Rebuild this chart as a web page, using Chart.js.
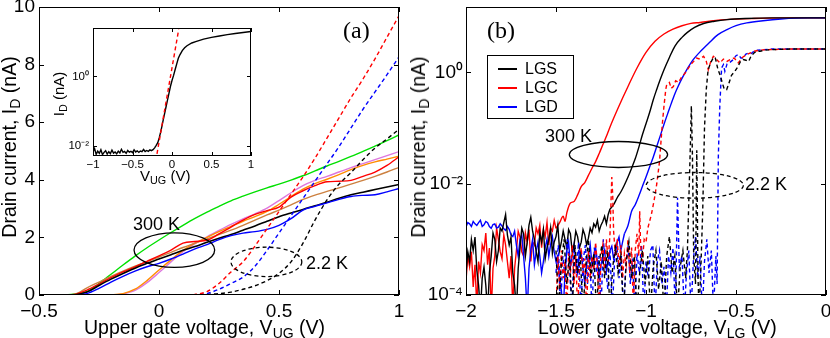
<!DOCTYPE html>
<html>
<head>
<meta charset="utf-8">
<script src="https://cdn.jsdelivr.net/npm/chart.js@4.4.1/dist/chart.umd.min.js"></script>
<style>
html, body { margin: 0; padding: 0; background: #fff; }
#fig { position: relative; width: 830px; height: 338px; overflow: hidden; font-family: "Liberation Sans", Arial, sans-serif; color: #000; }
#fig canvas { position: absolute; }
.t { position: absolute; white-space: nowrap; font-size: 18px; line-height: 18px; }
.t sub { font-size: 0.72em; vertical-align: -0.3em; line-height: 0; }
.title { font-size: 19.5px; line-height: 20px; }
.rot { transform: translate(-50%, -50%) rotate(-90deg); }
.small { font-size: 15px; line-height: 15px; }
.serif { font-family: "Liberation Serif", "Times New Roman", serif; font-size: 24px; line-height: 24px; }
#legend { position: absolute; left: 487px; top: 55px; width: 85px; height: 62px; border: 1px solid #000; background: #fff; font-size: 16px; line-height: 16px; }
#legend .ln { position: absolute; left: 10px; width: 19px; height: 2px; }
#legend .lb { position: absolute; left: 37px; }
</style>
</head>
<body>
<div id="fig">
  <canvas id="chartA" width="415" height="338" style="left:0;top:0"></canvas>
  <canvas id="chartB" width="415" height="338" style="left:415px;top:0"></canvas>
  <canvas id="inset" width="215" height="180" style="left:50px;top:15px"></canvas>

  <div class="t title rot" style="left:9px;top:147px">Drain current, I<sub>D</sub> (nA)</div>
  <div class="t title" style="left:84px;top:317px">Upper gate voltage, V<sub>UG</sub> (V)</div>
  <div class="t title rot" style="left:418px;top:147px">Drain current, I<sub>D</sub> (nA)</div>
  <div class="t title" style="left:538px;top:317px">Lower gate voltage, V<sub>LG</sub> (V)</div>
  <div class="t small rot" style="left:58px;top:94px">I<sub>D</sub> (nA)</div>
  <div class="t small" style="left:140px;top:168px">V<sub>UG</sub> (V)</div>

  <div class="t serif" style="left:343px;top:18px">(a)</div>
  <div class="t serif" style="left:487px;top:18px">(b)</div>
  <div class="t" style="left:133px;top:215px">300 K</div>
  <div class="t" style="left:306px;top:254px">2.2 K</div>
  <div class="t" style="left:545px;top:127px">300 K</div>
  <div class="t" style="left:745px;top:175px">2.2 K</div>

  <div id="legend">
    <div class="ln" style="top:12px;background:#000"></div><div class="lb" style="top:5px">LGS</div>
    <div class="ln" style="top:31px;background:#f00"></div><div class="lb" style="top:24px">LGC</div>
    <div class="ln" style="top:50px;background:#00f"></div><div class="lb" style="top:43px">LGD</div>
  </div>
</div>

<script>
// ---- panel (a): upper gate sweep, linear scale ----
const vUG = [-0.5, -0.4, -0.35, -0.3, -0.25, -0.2, -0.15, -0.1, -0.05, 0, 0.05, 0.1, 0.15, 0.2, 0.25,
             0.3, 0.35, 0.4, 0.45, 0.5, 0.55, 0.6, 0.65, 0.7, 0.75, 0.8, 0.85, 0.9, 0.95, 1.0];
const green300 = [0, 0, 0.04, 0.12, 0.4, 0.72, 1.04, 1.35, 1.64, 1.91, 2.17, 2.42, 2.66, 2.88, 3.08,
                  3.27, 3.43, 3.58, 3.72, 3.85, 3.99, 4.14, 4.31, 4.48, 4.64, 4.81, 4.99, 5.17, 5.36, 5.56];
const red300 = [0, 0, 0.02, 0.17, 0.38, 0.6, 0.8, 0.98, 1.17, 1.36, 1.56, 1.8, 1.86, 1.9, 2.12,
                2.36, 2.6, 2.8, 2.93, 3.05, 3.4, 3.62, 3.8, 3.93, 3.95, 3.98, 4.12, 4.27, 4.5, 4.8];
const black300 = [0, 0, 0.01, 0.1, 0.33, 0.55, 0.75, 0.93, 1.1, 1.25, 1.4, 1.55, 1.68, 1.83, 1.97,
                  2.1, 2.25, 2.4, 2.56, 2.72, 2.85, 2.97, 3.1, 3.22, 3.36, 3.48, 3.57, 3.66, 3.75, 3.84];
const blue300 = [0, 0, 0, 0.05, 0.23, 0.45, 0.65, 0.83, 0.98, 1.1, 1.25, 1.42, 1.6, 1.75, 1.92,
                 2.06, 2.15, 2.2, 2.28, 2.42, 2.65, 2.95, 3.08, 3.2, 3.32, 3.42, 3.46, 3.48, 3.58, 3.7];
const tan300 = [0, 0, 0.03, 0.25, 0.45, 0.65, 0.83, 1.0, 1.16, 1.32, 1.48, 1.65, 1.8, 1.95, 2.1,
                2.25, 2.42, 2.6, 2.78, 2.95, 3.13, 3.32, 3.47, 3.6, 3.72, 3.85, 3.98, 4.12, 4.27, 4.43];
const orange300 = [0, 0, 0, 0, 0, 0.01, 0.05, 0.2, 0.5, 0.87, 1.22, 1.55, 1.8, 2.0, 2.2,
                   2.38, 2.56, 2.72, 2.9, 3.15, 3.42, 3.68, 3.87, 4.02, 4.18, 4.35, 4.5, 4.62, 4.72, 4.82];
const pink300 = [0, 0, 0, 0, 0, 0, 0.04, 0.16, 0.43, 0.78, 1.15, 1.5, 1.78, 2.02, 2.24,
                 2.45, 2.64, 2.82, 3.02, 3.28, 3.55, 3.8, 3.98, 4.12, 4.27, 4.42, 4.56, 4.7, 4.84, 4.98];
const red2K = [0, 0, 0, 0, 0, 0, 0, 0, 0, 0, 0, 0, 0.02, 0.12, 0.4,
               0.8, 1.15, 1.7, 2.3, 2.9, 3.5, 4.1, 4.75, 5.45, 6.15, 6.85, 7.5, 8.2, 8.95, 9.7];
const blue2K = [0, 0, 0, 0, 0, 0, 0, 0, 0, 0, 0, 0, 0, 0.05, 0.2,
                0.4, 0.62, 1.0, 1.55, 2.15, 2.75, 3.35, 3.95, 4.55, 5.15, 5.8, 6.45, 7.05, 7.65, 8.27];
const black2K = [0, 0, 0, 0, 0, 0, 0, 0, 0, 0, 0, 0, 0, 0.02, 0.05,
                 0.1, 0.2, 0.32, 0.5, 0.75, 1.15, 1.8, 2.6, 3.3, 3.85, 4.25, 4.7, 5.1, 5.42, 5.75];
const xTicksA = [-0.5, 0, 0.5, 1];
const yTicksA = [0, 2, 4, 6, 8, 10];

// ---- inset: log scale of one 300 K curve and its exponential fit ----
const insetCurve = [[-1.00,6.8e-3],[-0.98,8.5e-3],[-0.96,5.8e-3],[-0.94,7.2e-3],[-0.92,6.2e-3],[-0.90,7.9e-3],
  [-0.88,5.7e-3],[-0.86,6.6e-3],[-0.84,7.4e-3],[-0.82,5.9e-3],[-0.80,6.9e-3],[-0.78,6.1e-3],[-0.76,7.7e-3],
  [-0.74,6.3e-3],[-0.72,6.8e-3],[-0.70,6.0e-3],[-0.68,7.2e-3],[-0.66,6.4e-3],[-0.64,8.1e-3],[-0.62,6.6e-3],
  [-0.60,7.0e-3],[-0.58,6.2e-3],[-0.56,7.5e-3],[-0.54,6.7e-3],[-0.52,7.1e-3],[-0.50,6.5e-3],[-0.48,7.8e-3],
  [-0.46,6.8e-3],[-0.44,7.3e-3],[-0.42,6.6e-3],[-0.40,7.2e-3],[-0.38,6.9e-3],[-0.36,8.0e-3],[-0.34,7.0e-3],
  [-0.32,7.5e-3],[-0.30,7.1e-3],[-0.28,7.8e-3],[-0.26,7.4e-3],[-0.24,7.9e-3],[-0.22,8.9e-3],[-0.20,1.05e-2],
  [-0.18,1.26e-2],[-0.16,1.78e-2],[-0.14,2.75e-2],[-0.12,4.47e-2],[-0.10,7.4e-2],[-0.08,0.12],[-0.06,0.195],
  [-0.04,0.316],[-0.02,0.513],[0.00,0.76],[0.02,1.07],[0.04,1.58],[0.06,2.29],[0.08,3.31],[0.10,4.17],
  [0.13,5.5],[0.16,6.6],[0.19,7.6],[0.25,9.1],[0.30,10.0],[0.40,11.7],[0.50,13.2],[0.60,14.5],[0.70,15.8],
  [0.80,17.0],[0.90,18.2],[1.00,19.5]];
const insetFit = [[-0.19, 6.0e-3], [0.085, 22.4]];
const xTicksIn = [-1, -0.5, 0, 0.5, 1];
const yTicksIn = [1e-2, 1];

// ---- panel (b): lower gate sweep, log scale ----
const lgs300 = [[-2.00,2.5e-4],[-1.99,6e-4],[-1.98,4e-4],[-1.97,1e-3],[-1.96,6.3e-4],[-1.95,1.1e-3],[-1.94,2.8e-4],
  [-1.93,1.5e-4],[-1.92,5e-5],[-1.91,2e-4],[-1.90,3.2e-4],[-1.89,1.5e-4],[-1.88,5e-5],[-1.87,2.5e-4],[-1.86,5e-4],
  [-1.85,1.3e-3],[-1.84,1e-3],[-1.83,4e-4],[-1.82,6.3e-4],[-1.81,1.6e-3],[-1.80,1.41e-3],[-1.79,2e-3],[-1.78,2.8e-3],
  [-1.77,1.2e-3],[-1.76,7.9e-4],[-1.75,1.1e-3],[-1.74,2.5e-4],[-1.73,1.5e-4],[-1.72,5e-5],[-1.71,3e-4],[-1.70,7.1e-4],
  [-1.69,1.6e-3],[-1.68,1.26e-3],[-1.67,5e-4],[-1.66,8.9e-4],[-1.65,1.8e-3],[-1.64,2.5e-3],[-1.63,1.4e-3],[-1.62,1e-3],
  [-1.61,6e-4],[-1.60,4e-4],[-1.59,1.3e-3],[-1.58,8.9e-4],[-1.57,1.5e-3],[-1.56,4.5e-4],[-1.55,7e-4],[-1.54,1e-3],
  [-1.53,1.6e-3],[-1.52,5.6e-4],[-1.51,9e-4],[-1.50,1.12e-3],[-1.49,1.8e-3],[-1.48,6.3e-4],[-1.47,9e-4],[-1.46,1.41e-3],
  [-1.45,1.0e-3],[-1.44,7.1e-4],[-1.43,1.5e-3],[-1.42,1.26e-3],[-1.41,6e-4],[-1.40,7.9e-4],[-1.39,1.4e-3],
  [-1.38,1.12e-3],[-1.37,7e-4],[-1.36,8.9e-4],[-1.35,1.5e-3],[-1.34,1.2e-3],[-1.33,8e-4],[-1.32,1.05e-3],
  [-1.31,1.6e-3],[-1.30,1.32e-3],[-1.29,1.9e-3],[-1.28,1.66e-3],[-1.27,2.2e-3],[-1.26,1.41e-3],[-1.25,1.8e-3],
  [-1.24,2.1e-3],[-1.23,2.6e-3],[-1.22,1.9e-3],[-1.21,2.8e-3],[-1.20,3.5e-3],[-1.18,4.2e-3],[-1.16,5.6e-3],
  [-1.14,7.1e-3],[-1.12,9.5e-3],[-1.10,1.32e-2],[-1.08,1.9e-2],[-1.06,2.8e-2],[-1.04,4.5e-2],[-1.02,7.6e-2],
  [-1.00,0.12],[-0.98,0.19],[-0.96,0.32],[-0.94,0.5],[-0.92,0.76],[-0.90,1.12],[-0.87,1.86],[-0.84,2.95],
  [-0.80,4.27],[-0.77,5.25],[-0.73,6.46],[-0.68,7.59],[-0.62,8.32],[-0.55,8.91],[-0.45,9.33],[-0.30,9.55],[0,9.55]];
const lgc300 = [[-2.00,1.8e-4],[-1.99,5e-4],[-1.98,3.2e-4],[-1.97,6e-4],[-1.96,1.4e-4],[-1.95,3.5e-4],[-1.94,6e-5],
  [-1.93,4e-4],[-1.92,2.5e-4],[-1.91,8e-4],[-1.90,6.3e-4],[-1.89,1.3e-3],[-1.88,3.5e-4],[-1.87,7e-4],[-1.86,5e-5],
  [-1.85,3e-4],[-1.84,5e-4],[-1.83,1.6e-3],[-1.82,1e-3],[-1.81,6e-4],[-1.80,4.5e-4],[-1.79,1.2e-3],[-1.78,7.9e-4],
  [-1.77,4e-4],[-1.76,2e-4],[-1.75,5e-4],[-1.74,6e-5],[-1.73,3e-4],[-1.72,6.3e-4],[-1.71,1.4e-3],[-1.70,1.1e-3],
  [-1.69,6e-4],[-1.68,5e-4],[-1.67,1.3e-3],[-1.66,8.9e-4],[-1.65,1.5e-3],[-1.64,4e-4],[-1.63,9e-4],[-1.62,7.9e-4],
  [-1.61,1.6e-3],[-1.60,1.26e-3],[-1.59,1.8e-3],[-1.58,7.1e-4],[-1.57,1.5e-3],[-1.56,1.12e-3],[-1.55,2e-3],
  [-1.54,7.9e-4],[-1.53,1.6e-3],[-1.52,1.41e-3],[-1.51,2.2e-3],[-1.50,1.58e-3],[-1.48,2.0e-3],[-1.46,2.6e-3],
  [-1.45,2.1e-3],[-1.44,3.0e-3],[-1.42,4.5e-3],[-1.40,4.8e-3],[-1.38,6.3e-3],[-1.36,8.9e-3],[-1.34,1.05e-2],
  [-1.32,1.41e-2],[-1.30,1.9e-2],[-1.28,2.5e-2],[-1.26,3.5e-2],[-1.24,5.0e-2],[-1.22,7.1e-2],[-1.20,0.105],
  [-1.15,0.25],[-1.10,0.56],[-1.05,1.2],[-1.00,2.29],[-0.95,3.63],[-0.90,4.9],[-0.85,6.0],[-0.80,6.9],[-0.75,7.6],
  [-0.70,7.9],[-0.60,8.7],[-0.50,9.1],[-0.40,9.3],[-0.20,9.55],[0,9.55]];
const lgd300 = [[-2.00,1.66e-3],[-1.99,2.0e-3],[-1.98,1.9e-3],[-1.97,1.7e-3],[-1.96,2.1e-3],[-1.95,1.9e-3],
  [-1.94,1.78e-3],[-1.93,2.0e-3],[-1.92,2.2e-3],[-1.91,1.7e-3],[-1.90,1.82e-3],[-1.89,2.1e-3],[-1.88,2.0e-3],
  [-1.87,1.7e-3],[-1.86,1.58e-3],[-1.85,1.85e-3],[-1.84,1.9e-3],[-1.83,1.6e-3],[-1.82,1.66e-3],[-1.81,1.9e-3],
  [-1.80,1.74e-3],[-1.79,1.55e-3],[-1.78,1.45e-3],[-1.77,1.7e-3],[-1.76,1.51e-3],[-1.75,1.2e-3],[-1.74,1.12e-3],
  [-1.73,1.4e-3],[-1.72,7.9e-4],[-1.71,5e-4],[-1.70,1e-3],[-1.69,1.2e-3],[-1.68,5e-4],[-1.67,2e-4],[-1.66,5e-5],
  [-1.65,3e-4],[-1.64,6.3e-4],[-1.63,1e-3],[-1.62,3.5e-4],[-1.61,6e-4],[-1.60,8.9e-4],[-1.59,5e-4],[-1.58,2.5e-4],
  [-1.57,4e-4],[-1.56,7.1e-4],[-1.55,1e-3],[-1.54,5e-4],[-1.53,8e-4],[-1.52,1.12e-3],[-1.51,6e-4],[-1.50,4e-4],
  [-1.49,5e-4],[-1.48,2e-4],[-1.47,1.2e-4],[-1.46,5e-5],[-1.45,2.5e-4],[-1.44,6.3e-4],[-1.43,9e-4],[-1.42,3.2e-4],
  [-1.41,5e-4],[-1.40,7.9e-4],[-1.39,4e-4],[-1.38,2.5e-4],[-1.37,6e-4],[-1.36,5.6e-4],[-1.35,3e-4],[-1.34,1.58e-4],
  [-1.33,3.5e-4],[-1.32,5e-4],[-1.31,8e-4],[-1.30,3.5e-4],[-1.29,5e-4],[-1.28,7.1e-4],[-1.27,4e-4],[-1.26,2e-4],
  [-1.25,3.5e-4],[-1.24,5e-4],[-1.23,6.5e-4],[-1.22,2.8e-4],[-1.21,4e-4],[-1.20,6.3e-4],[-1.19,7.5e-4],
  [-1.18,4.5e-4],[-1.17,6e-4],[-1.16,8.9e-4],[-1.15,1.1e-3],[-1.14,6.3e-4],[-1.13,9e-4],[-1.12,1.26e-3],
  [-1.10,1.78e-3],[-1.08,3.2e-3],[-1.06,4.2e-3],[-1.04,6.0e-3],[-1.02,8.9e-3],[-1.00,1.32e-2],[-0.98,2.0e-2],
  [-0.96,3.0e-2],[-0.94,4.7e-2],[-0.92,7.4e-2],[-0.90,0.117],[-0.88,0.18],[-0.86,0.275],[-0.84,0.41],[-0.82,0.575],
  [-0.80,0.78],[-0.77,1.17],[-0.74,1.66],[-0.70,2.34],[-0.65,3.39],[-0.60,4.79],[-0.55,5.89],[-0.50,6.92],
  [-0.44,7.76],[-0.35,8.51],[-0.25,9.12],[-0.10,9.55],[0,9.55]];
const lgs2K = [[-1.500,6.3e-4],[-1.485,5e-5],[-1.470,4e-4],[-1.455,1e-3],[-1.440,1.58e-4],[-1.425,5e-4],[-1.410,5e-5],
  [-1.395,7.9e-4],[-1.380,2.5e-4],[-1.365,5e-4],[-1.350,5e-5],[-1.335,3.2e-4],[-1.320,1e-3],[-1.305,2e-4],
  [-1.290,5.6e-4],[-1.275,5e-5],[-1.260,4e-4],[-1.245,7.9e-4],[-1.230,2e-4],[-1.215,6.3e-4],[-1.200,5e-5],
  [-1.185,3.2e-4],[-1.170,7.1e-4],[-1.155,2.5e-4],[-1.140,5e-4],[-1.125,5e-5],[-1.110,4e-4],[-1.095,8.9e-4],
  [-1.080,2e-4],[-1.065,5e-4],[-1.050,5e-5],[-1.035,2.5e-4],[-1.020,6.3e-4],[-1.005,1.58e-4],[-0.990,5e-4],
  [-0.975,5e-5],[-0.960,3.2e-4],[-0.945,6.3e-4],[-0.930,1.26e-4],[-0.915,4e-4],[-0.900,5e-5],[-0.885,5e-4],
  [-0.870,1.12e-3],[-0.855,2.5e-4],[-0.840,5e-4],[-0.825,5e-5],[-0.810,3.2e-4],[-0.795,6.3e-4],[-0.780,2e-4],
  [-0.770,6.3e-4],[-0.755,3.2e-2],[-0.748,0.25],[-0.742,3.2e-2],[-0.735,5e-4],[-0.725,1.58e-4],[-0.718,4e-2],
  [-0.711,2e-4],[-0.705,5e-5],[-0.695,3.2e-4],[-0.685,3.2e-3],[-0.675,0.1],[-0.665,0.5],[-0.655,1.12],
  [-0.640,1.51],[-0.625,1.86],[-0.615,1.82],[-0.600,1.12],[-0.589,0.91],[-0.575,0.63],[-0.565,0.5],[-0.552,0.49],
  [-0.540,0.63],[-0.525,0.89],[-0.506,1.05],[-0.490,1.26],[-0.475,1.58],[-0.460,1.7],[-0.445,1.66],[-0.430,1.58],
  [-0.415,2.0],[-0.400,2.24],[-0.385,2.4],[-0.367,2.4],[-0.340,2.51],[-0.300,2.57],[-0.200,2.63],[0,2.63]];
const lgc2K = [[-1.500,5e-5],[-1.490,5e-4],[-1.480,1.26e-4],[-1.470,6.3e-4],[-1.460,2e-4],[-1.450,4e-4],[-1.440,5e-5],
  [-1.430,5.6e-4],[-1.420,2.5e-4],[-1.410,7.9e-4],[-1.400,1.58e-4],[-1.390,5e-4],[-1.380,5e-5],[-1.370,3.2e-4],
  [-1.360,7.1e-4],[-1.350,2.5e-4],[-1.340,4.5e-4],[-1.330,5e-5],[-1.320,6.3e-4],[-1.310,2e-4],[-1.300,5e-4],
  [-1.290,2.8e-4],[-1.280,8.9e-4],[-1.270,3.2e-4],[-1.260,5e-5],[-1.250,5e-4],[-1.240,7.9e-4],[-1.230,2.5e-4],
  [-1.220,1e-3],[-1.210,4e-4],[-1.200,1.26e-3],[-1.190,1.32e-2],[-1.185,6.3e-3],[-1.180,1.41e-3],[-1.170,5e-4],
  [-1.160,1e-3],[-1.150,3.2e-4],[-1.140,7.9e-4],[-1.130,2e-4],[-1.120,5.6e-4],[-1.110,3.5e-4],[-1.100,1e-3],
  [-1.090,2.5e-4],[-1.080,7.1e-4],[-1.070,5e-5],[-1.060,6.3e-4],[-1.050,1.26e-3],[-1.040,5e-4],[-1.035,3.2e-3],
  [-1.030,7.9e-4],[-1.020,4e-4],[-1.010,1e-3],[-1.000,8.9e-4],[-0.990,1.58e-3],[-0.970,2.8e-3],[-0.955,5e-3],
  [-0.940,1e-2],[-0.925,2.5e-2],[-0.910,0.112],[-0.900,0.25],[-0.890,0.5],[-0.885,0.6],[-0.870,0.66],[-0.860,0.52],
  [-0.848,0.56],[-0.835,0.71],[-0.820,0.66],[-0.800,0.85],[-0.785,0.95],[-0.770,1.12],[-0.750,1.41],[-0.735,1.58],
  [-0.720,1.82],[-0.700,1.74],[-0.680,1.95],[-0.665,1.58],[-0.654,1.12],[-0.640,1.58],[-0.626,1.95],[-0.610,1.74],
  [-0.589,1.48],[-0.570,1.74],[-0.550,1.58],[-0.533,1.7],[-0.510,1.82],[-0.487,1.48],[-0.465,1.86],[-0.440,2.09],
  [-0.420,2.24],[-0.400,2.4],[-0.370,2.51],[-0.330,2.57],[-0.200,2.63],[0,2.63]];
const lgd2K = [[-1.500,2.5e-4],[-1.487,7.9e-4],[-1.475,5e-5],[-1.462,5e-4],[-1.450,2e-4],[-1.437,1e-3],[-1.425,3.2e-4],
  [-1.412,5e-5],[-1.400,6.3e-4],[-1.387,2.5e-4],[-1.375,8.9e-4],[-1.362,5e-5],[-1.350,4e-4],[-1.337,7.9e-4],
  [-1.325,1.58e-4],[-1.312,5e-4],[-1.300,5e-5],[-1.287,7.1e-4],[-1.275,2.5e-4],[-1.262,5e-4],[-1.250,5e-5],
  [-1.237,1e-3],[-1.225,3.2e-4],[-1.212,1.26e-4],[-1.200,6.3e-4],[-1.187,5e-5],[-1.175,4e-4],[-1.162,7.9e-4],
  [-1.150,2e-4],[-1.137,5e-4],[-1.125,5e-5],[-1.112,3.2e-4],[-1.100,7.9e-4],[-1.087,1.58e-4],[-1.075,4.5e-4],
  [-1.062,5e-5],[-1.050,5.6e-4],[-1.037,2.5e-4],[-1.025,7.9e-4],[-1.012,5e-5],[-1.000,4e-4],[-0.987,2e-4],
  [-0.975,6.3e-4],[-0.962,7.9e-4],[-0.950,5e-5],[-0.937,4e-4],[-0.925,6.3e-4],[-0.912,1.58e-4],[-0.900,3.2e-4],
  [-0.887,5e-5],[-0.875,5e-4],[-0.862,2.5e-4],[-0.850,7.1e-4],[-0.837,5e-5],[-0.825,5.6e-3],[-0.815,3.2e-4],
  [-0.800,5e-4],[-0.787,5e-5],[-0.775,2.5e-4],[-0.762,6.3e-4],[-0.750,5e-5],[-0.737,4e-4],[-0.725,1.12e-3],
  [-0.712,2e-4],[-0.700,5e-4],[-0.687,5e-5],[-0.675,4e-4],[-0.662,1e-3],[-0.650,2.5e-4],[-0.637,6.3e-4],
  [-0.625,5e-5],[-0.612,5e-4],[-0.605,1.58e-4],[-0.598,3.2e-2],[-0.590,0.25],[-0.580,1.2],[-0.570,1.38],
  [-0.562,1.05],[-0.550,1.41],[-0.535,1.51],[-0.515,1.7],[-0.500,2.0],[-0.487,2.09],[-0.473,1.82],[-0.460,1.82],
  [-0.445,2.14],[-0.430,2.24],[-0.415,2.19],[-0.400,2.4],[-0.380,2.51],[-0.350,2.57],[-0.300,2.63],[-0.200,2.63],[0,2.63]];
// where each 300 K curve leaves the noise floor (jagged before, smooth after)
const riseLGS = -1.20, riseLGC = -1.50, riseLGD = -1.12;
const xTicksB = [-2, -1.5, -1, -0.5, 0];
const yTicksB = [1e-4, 1e-2, 1];

Chart.defaults.font.family = '"Liberation Sans", Arial, sans-serif';
Chart.defaults.color = '#000';
Chart.defaults.animation = false;

const minus = v => (v < 0 ? '\u2212' : '') + Math.abs(v);
const sup = { '-4': '\u207b\u2074', '-2': '\u207b\u00b2', '0': '\u2070' };
const pow10 = v => '10' + sup[String(Math.round(Math.log10(v)))];

// box frame, inward ticks on all four sides, optional ellipse annotations
const frameTicks = {
  id: 'frameTicks',
  beforeDatasetsDraw(chart, args, o) {
    if (!o.fill) return;
    const a = chart.chartArea;
    chart.ctx.save();
    chart.ctx.fillStyle = o.fill;
    chart.ctx.fillRect(a.left, a.top, a.width, a.height);
    chart.ctx.restore();
  },
  afterDatasetsDraw(chart, args, o) {
    const { ctx, chartArea: a, scales: { x, y } } = chart;
    const len = o.len || 5;
    ctx.save();
    ctx.strokeStyle = '#000';
    ctx.lineWidth = 1;
    ctx.beginPath();
    x.ticks.forEach(t => {
      const p = Math.round(x.getPixelForValue(t.value)) + 0.5;
      ctx.moveTo(p, a.bottom); ctx.lineTo(p, a.bottom - len);
      ctx.moveTo(p, a.top); ctx.lineTo(p, a.top + len);
    });
    y.ticks.forEach(t => {
      const p = Math.round(y.getPixelForValue(t.value)) + 0.5;
      ctx.moveTo(a.left, p); ctx.lineTo(a.left + len, p);
      ctx.moveTo(a.right, p); ctx.lineTo(a.right - len, p);
    });
    ctx.stroke();
    ctx.strokeRect(a.left + 0.5, a.top + 0.5, a.width - 1, a.height - 1);
    (o.ellipses || []).forEach(e => {
      const x0 = x.getPixelForValue(e.x0), x1 = x.getPixelForValue(e.x1);
      const y0 = y.getPixelForValue(e.y0), y1 = y.getPixelForValue(e.y1);
      ctx.beginPath();
      ctx.setLineDash(e.dash || []);
      ctx.lineWidth = 1.3;
      ctx.ellipse((x0 + x1) / 2, (y0 + y1) / 2, Math.abs(x1 - x0) / 2, Math.abs(y1 - y0) / 2, 0, 0, Math.PI * 2);
      ctx.stroke();
    });
    ctx.restore();
  }
};

function fixBox(w, h) {
  return s => {
    if (s.isHorizontal()) { s.height = h; s.paddingLeft = 0; s.paddingRight = 0; }
    else { s.width = w; s.paddingTop = 0; s.paddingBottom = 0; }
  };
}
const setTicks = list => s => { s.ticks = list.map(v => ({ value: v })); };

function line(data, color, dashed, width, smooth) {
  return {
    data, borderColor: color, borderWidth: width || 1.4, borderDash: dashed ? [4, 3] : [],
    pointRadius: 0, fill: false, cubicInterpolationMode: smooth ? 'monotone' : 'default', tension: 0
  };
}
const onGrid = ys => vUG.map((v, i) => [v, ys[i]]);
const upTo = (d, cut) => d.filter(p => p[0] <= cut);
const from = (d, cut) => d.filter(p => p[0] >= cut);

// Panel (a)
new Chart(document.getElementById('chartA'), {
  type: 'line',
  data: {
    datasets: [
      line(onGrid(red2K), '#ff0000', true, 1.4, true),
      line(onGrid(blue2K), '#0000ff', true, 1.4, true),
      line(onGrid(black2K), '#000000', true, 1.4, true),
      line(onGrid(blue300), '#0000ff', false, 1.4, true),
      line(onGrid(black300), '#000000', false, 1.6, true),
      line(onGrid(red300), '#ff0000', false, 1.4, true),
      line(onGrid(tan300), '#cc8040', false, 1.4, true),
      line(onGrid(orange300), '#ff8c00', false, 1.4, true),
      line(onGrid(pink300), '#dd77dd', false, 1.4, true),
      line(onGrid(green300), '#00e000', false, 1.4, true)
    ]
  },
  options: {
    responsive: false,
    layout: { padding: { left: 0, right: 16, top: 7, bottom: 0 } },
    plugins: {
      legend: { display: false },
      tooltip: { enabled: false },
      frameTicks: {
        ellipses: [
          { x0: -0.104, x1: 0.232, y0: 0.96, y1: 2.16 },
          { x0: 0.30, x1: 0.595, y0: 0.64, y1: 1.66, dash: [4, 3] }
        ]
      }
    },
    scales: {
      x: {
        type: 'linear', min: -0.5, max: 1,
        grid: { display: false, drawTicks: false }, border: { display: false },
        afterBuildTicks: setTicks(xTicksA), afterFit: fixBox(39, 43),
        ticks: { font: { size: 19 }, padding: 5, maxRotation: 0, autoSkip: false, callback: minus }
      },
      y: {
        type: 'linear', min: 0, max: 10,
        grid: { display: false, drawTicks: false }, border: { display: false },
        afterBuildTicks: setTicks(yTicksA), afterFit: fixBox(39, 43),
        ticks: { font: { size: 19 }, padding: 4, autoSkip: false }
      }
    }
  },
  plugins: [frameTicks]
});

// Inset of panel (a)
new Chart(document.getElementById('inset'), {
  type: 'line',
  data: {
    datasets: [
      line(insetFit, '#ff0000', true, 1.4, false),
      line(insetCurve, '#000000', false, 1.4, false)
    ]
  },
  options: {
    responsive: false,
    layout: { padding: { left: 0, right: 14, top: 13, bottom: 0 } },
    plugins: { legend: { display: false }, tooltip: { enabled: false }, frameTicks: { fill: '#fff', len: 4 } },
    scales: {
      x: {
        type: 'linear', min: -1, max: 1,
        grid: { display: false, drawTicks: false }, border: { display: false },
        afterBuildTicks: setTicks(xTicksIn), afterFit: fixBox(43, 39),
        ticks: { font: { size: 11.5 }, padding: 2, maxRotation: 0, autoSkip: false, callback: minus }
      },
      y: {
        type: 'logarithmic', min: 0.0052, max: 24.5,
        grid: { display: false, drawTicks: false }, border: { display: false },
        afterBuildTicks: setTicks(yTicksIn), afterFit: fixBox(43, 39),
        ticks: { font: { size: 11.5 }, padding: 4, autoSkip: false, callback: pow10 }
      }
    }
  },
  plugins: [frameTicks]
});

// Panel (b)
new Chart(document.getElementById('chartB'), {
  type: 'line',
  data: {
    datasets: [
      line(lgs2K, '#000000', true),
      line(lgc2K, '#ff0000', true),
      line(lgd2K, '#0000ff', true),
      line(upTo(lgs300, riseLGS), '#000000', false),
      line(from(lgs300, riseLGS), '#000000', false, 1.4, true),
      line(upTo(lgd300, riseLGD), '#0000ff', false),
      line(from(lgd300, riseLGD), '#0000ff', false, 1.4, true),
      line(upTo(lgc300, riseLGC), '#ff0000', false),
      line(from(lgc300, riseLGC), '#ff0000', false, 1.4, true)
    ]
  },
  options: {
    responsive: false,
    layout: { padding: { left: 0, right: 4, top: 7, bottom: 0 } },
    plugins: {
      legend: { display: false },
      tooltip: { enabled: false },
      frameTicks: {
        ellipses: [
          { x0: -1.426, x1: -0.88, y0: 0.0574, y1: 0.01955 },
          { x0: -0.999, x1: -0.459, y0: 0.0159, y1: 0.0055, dash: [4, 3] }
        ]
      }
    },
    scales: {
      x: {
        type: 'linear', min: -2, max: 0,
        grid: { display: false, drawTicks: false }, border: { display: false },
        afterBuildTicks: setTicks(xTicksB), afterFit: fixBox(51, 43),
        ticks: { font: { size: 19 }, padding: 5, maxRotation: 0, autoSkip: false, callback: minus }
      },
      y: {
        type: 'logarithmic', min: 1e-4, max: 15,
        grid: { display: false, drawTicks: false }, border: { display: false },
        afterBuildTicks: setTicks(yTicksB), afterFit: fixBox(51, 43),
        ticks: { font: { size: 19 }, padding: 3, autoSkip: false, callback: pow10 }
      }
    }
  },
  plugins: [frameTicks]
});
</script>
</body>
</html>
